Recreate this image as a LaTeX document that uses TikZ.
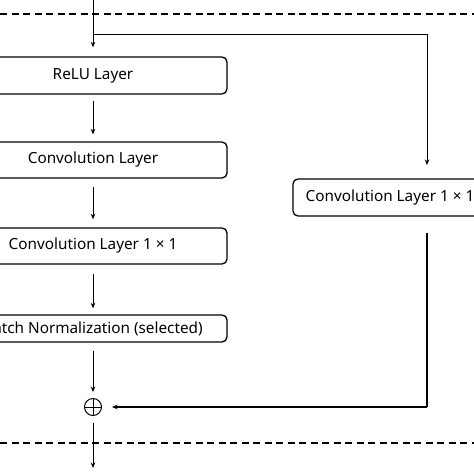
\documentclass[tikz,border=0pt]{standalone}
\usepackage{fontspec}
\setmainfont{Noto Sans}
\usetikzlibrary{arrows.meta}
\begin{document}
\begin{tikzpicture}[x=1pt,y=-1pt,
  layerbox/.style={draw, line width=1.3pt, rounded corners=5pt, minimum height=37pt, inner sep=0pt, font=\fontsize{15.3}{18}\selectfont},
  conn/.style={line width=0.9pt, -{Stealth[length=5.5pt,width=4.5pt]}},
  plain/.style={line width=1pt},
  sep/.style={line width=1.2pt, dash pattern=on 7pt off 4.5pt}]
\useasboundingbox (0,0) rectangle (474,474);
\clip (0,0) rectangle (474,474);
\fill[white] (0,0) rectangle (474,474);
% separators
\coordinate (sl1) at (0,14);
\coordinate (sr1) at (474,14);
\coordinate (sl2) at (0,443);
\coordinate (sr2) at (474,443);
\draw[sep] (sl1) -- (sr1);
\draw[sep] (sl2) -- (sr2);
% nodes
\node[layerbox, minimum width=268pt] (relu) at (93,75.5) {ReLU Layer};
\node[layerbox, minimum width=268pt, minimum height=36pt] (conv) at (93,160) {Convolution Layer};
\node[layerbox, minimum width=268pt, minimum height=36pt] (conv11) at (93,246) {Convolution Layer 1 × 1};
\node[layerbox, minimum width=268pt, minimum height=27pt] (bn) at (93,328.5) {Batch Normalization (selected)};
\node[layerbox, minimum width=194pt] (rconv) at (390,197.5) {Convolution Layer 1 × 1};
\node[draw, circle, line width=1pt, minimum size=17pt, inner sep=0pt] (plus) at (93,407) {};
\draw[line width=1pt] (plus.north) -- (plus.south) (plus.west) -- (plus.east);
% coordinates
\coordinate (top) at (93,0);
\coordinate (split) at (93,34);
\coordinate (corner) at (427,34);
\coordinate (rtop) at (427,179);
\coordinate (rbot) at (427,216);
\coordinate (rcorner) at (427,407);
\coordinate (out) at (93,468);
% connectors
\draw[conn, shorten >=9pt] (top) -- (relu);
\draw[plain] (split) -- (corner);
\draw[conn, shorten >=14pt] (corner) -- (rtop);
\draw[conn, shorten <=6pt, shorten >=7pt] (relu) -- (conv);
\draw[conn, shorten <=8pt, shorten >=8pt] (conv) -- (conv11);
\draw[conn, shorten <=9pt, shorten >=6pt] (conv11) -- (bn);
\draw[conn, shorten <=8pt, shorten >=6pt] (bn) -- (plus);
\draw[plain, line width=1.4pt, shorten <=17pt] (rbot) -- (rcorner);
\draw[conn, line width=1.2pt, shorten >=10pt] (rcorner) -- (plus);
\draw[conn, shorten <=7pt] (plus) -- (out);
\end{tikzpicture}
\end{document}
